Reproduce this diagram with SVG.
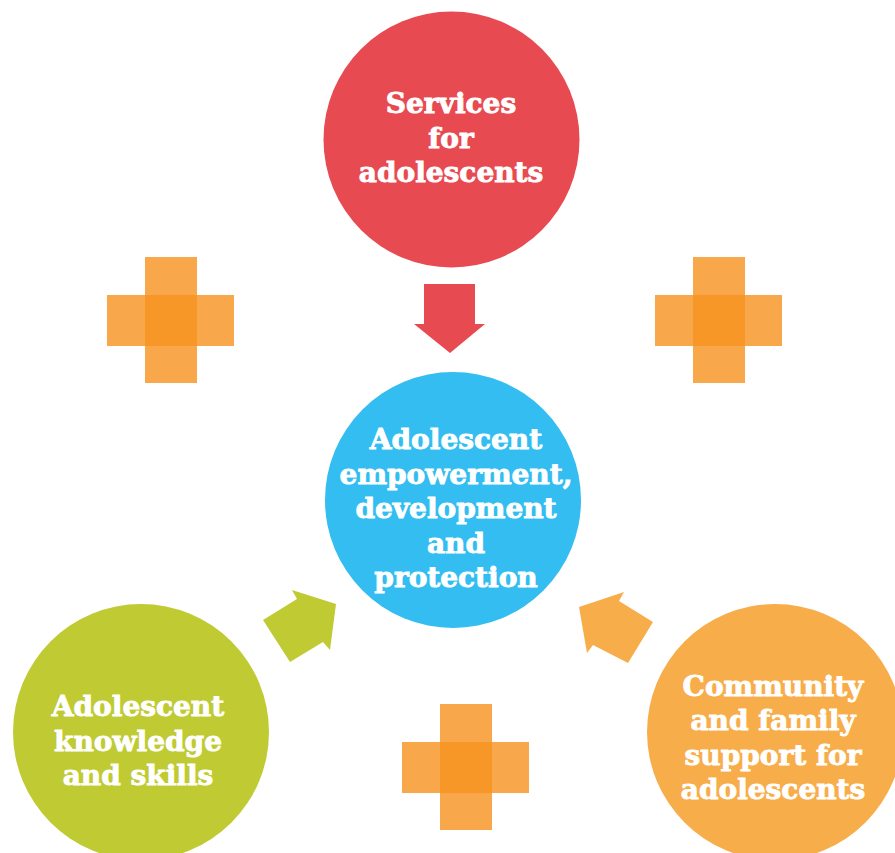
<svg xmlns="http://www.w3.org/2000/svg" width="895" height="853" viewBox="0 0 895 853">
<style>
.t{font-family:"DejaVu Serif",serif;font-weight:bold;font-size:28px;fill:#fff;stroke:#fff;stroke-width:0.9;text-anchor:middle}
.plus{fill:#F6921E;opacity:0.8}
</style>
<rect width="895" height="853" fill="#fff"/>
<g id="node-services">
<circle cx="451.5" cy="139.5" r="128" fill="#E84A52"/>
<text class="t" x="451" y="113">Services</text>
<text class="t" x="451" y="148">for</text>
<text class="t" x="451" y="182">adolescents</text>
</g>
<g id="node-empowerment">
<circle cx="453" cy="500" r="128" fill="#33BDF0"/>
<text class="t" x="456" y="449">Adolescent</text>
<text class="t" x="456" y="484">empowerment,</text>
<text class="t" x="456" y="518">development</text>
<text class="t" x="456" y="553">and</text>
<text class="t" x="456" y="587">protection</text>
</g>
<g id="node-knowledge">
<circle cx="141" cy="732" r="128" fill="#C0CA33"/>
<text class="t" x="138" y="716">Adolescent</text>
<text class="t" x="138" y="751">knowledge</text>
<text class="t" x="138" y="785">and skills</text>
</g>
<g id="node-community">
<circle cx="775" cy="732" r="128" fill="#F8AD4B"/>
<text class="t" x="773" y="696">Community</text>
<text class="t" x="773" y="730">and family</text>
<text class="t" x="773" y="765">support for</text>
<text class="t" x="773" y="799">adolescents</text>
</g>
<g id="plus-left">
<rect class="plus" x="145" y="257" width="52" height="126"/>
<rect class="plus" x="107" y="295" width="127" height="51"/>
</g>
<g id="plus-right">
<rect class="plus" x="693" y="257" width="52" height="126"/>
<rect class="plus" x="655" y="295" width="127" height="51"/>
</g>
<g id="plus-bottom">
<rect class="plus" x="440" y="704" width="52" height="126"/>
<rect class="plus" x="402" y="742" width="127" height="51"/>
</g>
<g id="connectors">
<polygon fill="#E84A52" points="424,284 475,284 475,324 485,324 450,353 414,324 424,324"/>
<polygon fill="#C0CA33" points="336,604 292,590 297,599 263,620 290,662 323,642 330,650"/>
<polygon fill="#F8AD4B" points="579,607 624,592 619,601 653,622 628,663 593,645 587,653"/>
</g>
</svg>
